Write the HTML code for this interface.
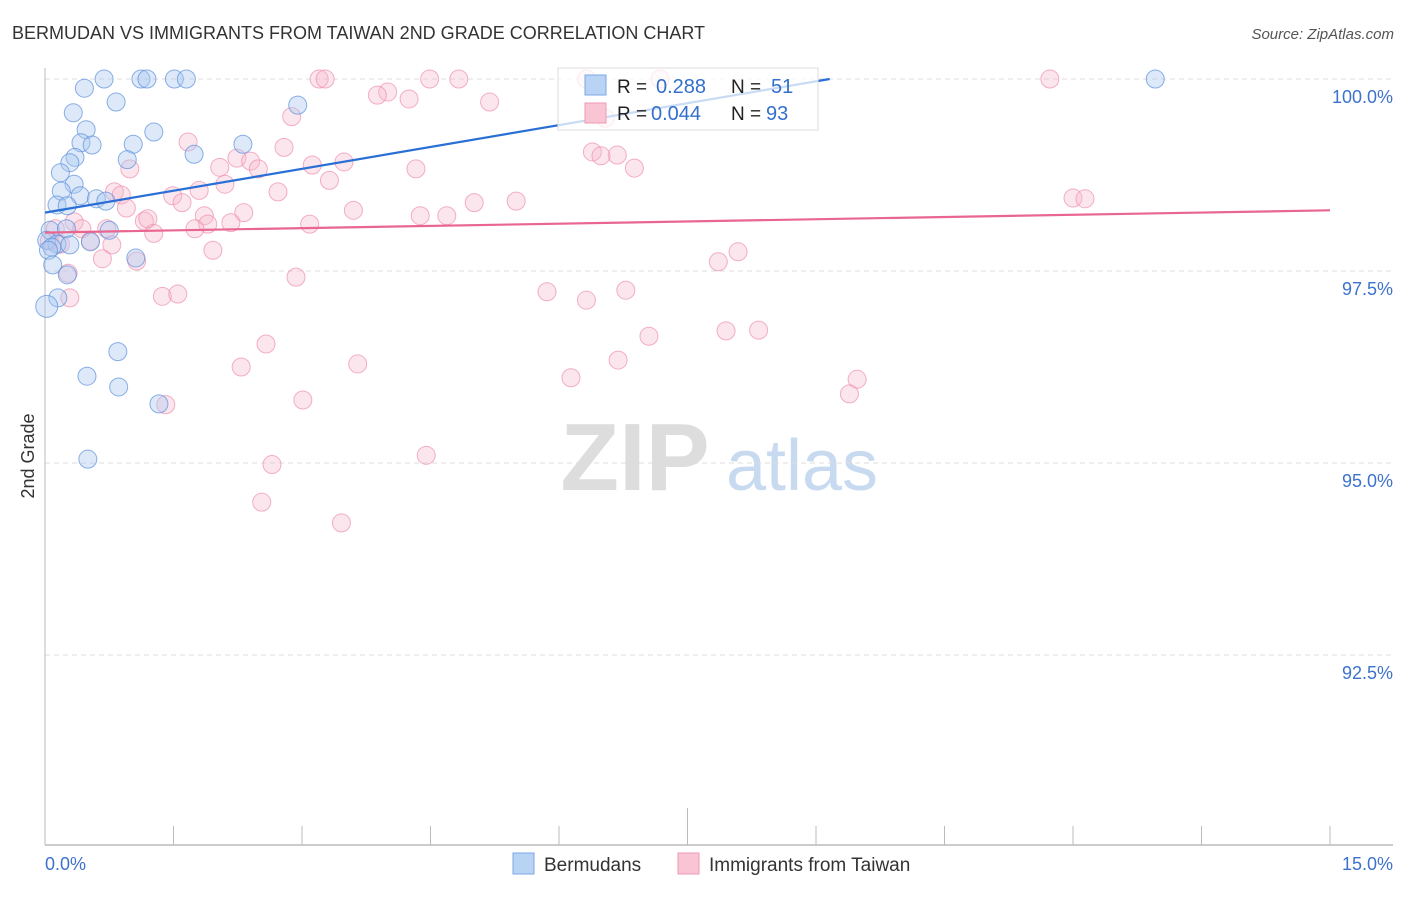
<!DOCTYPE html>
<html><head><meta charset="utf-8">
<style>
body{margin:0;background:#fff;font-family:"Liberation Sans",sans-serif}
svg text{font-family:"Liberation Sans",sans-serif}
</style></head>
<body>
<svg id="chart" width="1406" height="892" xmlns="http://www.w3.org/2000/svg">
<text x="12" y="39" font-size="18" fill="#333">BERMUDAN VS IMMIGRANTS FROM TAIWAN 2ND GRADE CORRELATION CHART</text>
<text x="1394" y="39" font-size="15" fill="#555" text-anchor="end" font-style="italic">Source: ZipAtlas.com</text>
<text x="34" y="456" font-size="18" fill="#333" text-anchor="middle" transform="rotate(-90 34 456)">2nd Grade</text>
<g>
<text x="635" y="490" font-size="96" fill="#ddd" text-anchor="middle" font-family="Liberation Serif" font-weight="bold">ZIP</text>
<text x="802" y="490" font-size="72" fill="#c8daf0" text-anchor="middle">atlas</text>
</g>
<g id="grid"></g>
<g id="axes"></g>
<g id="pts"></g>
<g id="lines"></g>
<g>
<rect x="558" y="68" width="260" height="62" fill="#fff" fill-opacity="0.75" stroke="#ddd"/>
<rect x="585" y="75" width="21" height="20" fill="#b9d3f5" stroke="#7aa7e6"/>
<rect x="585" y="103" width="21" height="20" fill="#f9c4d4" stroke="#ee9ab3"/>
<text x="617" y="93" font-size="19" fill="#222">R = </text>
<text x="656" y="93" font-size="20" fill="#3370cc">0.288</text>
<text x="731" y="93" font-size="19" fill="#222">N = </text>
<text x="771" y="93" font-size="20" fill="#3370cc">51</text>
<text x="617" y="120" font-size="19" fill="#222">R = </text>
<text x="651" y="120" font-size="20" fill="#3370cc">0.044</text>
<text x="731" y="120" font-size="19" fill="#222">N = </text>
<text x="766" y="120" font-size="20" fill="#3370cc">93</text>
</g>
<g>
<rect x="513" y="853" width="21" height="21" fill="#b9d3f5" stroke="#7aa7e6"/>
<text x="544" y="871" font-size="19" fill="#333">Bermudans</text>
<rect x="678" y="853" width="21" height="21" fill="#f9c4d4" stroke="#ee9ab3"/>
<text x="709" y="871" font-size="19" fill="#333">Immigrants from Taiwan</text>
</g>
</svg>
<script>
const blueX=[0.69,1.12,1.19,1.51,1.65,0.46,0.83,0.33,2.95,0.48,1.27,0.42,0.55,1.03,2.31,1.74,0.35,0.96,0.29,0.18,0.34,0.19,0.41,0.60,0.71,0.14,0.26,0.06,0.25,0.75,0.02,0.14,0.29,0.53,0.08,0.04,1.06,0.09,0.26,0.15,0.02,0.85,0.49,0.86,1.33,0.50,12.96];
const blueY=[100,100,100,100,100,99.88,99.70,99.56,99.66,99.34,99.31,99.17,99.14,99.15,99.15,99.02,98.98,98.95,98.91,98.78,98.63,98.54,98.48,98.44,98.41,98.36,98.35,98.03,98.05,98.03,97.90,97.85,97.84,97.88,97.81,97.77,97.67,97.58,97.45,97.15,97.04,96.45,96.13,95.99,95.77,95.05,100];
const pinkX=[3.20,3.27,4.49,4.83,6.32,7.18,11.73,4.00,3.88,4.25,5.19,2.88,6.54,1.67,2.79,6.39,6.68,6.49,2.24,2.40,3.49,3.12,2.04,0.99,2.49,6.88,4.33,3.32,2.10,2.72,0.81,0.89,1.80,1.49,1.60,5.01,5.50,12.00,12.14,0.95,3.60,2.32,1.86,4.38,4.69,1.16,1.20,0.34,2.17,1.90,3.09,1.75,1.27,0.72,0.43,0.12,0.53,0.78,0.05,0.18,1.96,8.09,7.86,0.67,1.07,2.93,0.27,0.29,1.37,1.55,5.86,6.32,6.78,7.95,8.33,7.05,2.58,2.29,3.65,6.69,6.14,9.48,9.39,3.01,1.41,4.45,2.65,2.53,3.46];
const pinkY=[100,100,100,100,100,100,100,99.83,99.79,99.74,99.70,99.51,99.49,99.18,99.11,99.05,99.01,99.00,98.97,98.93,98.92,98.88,98.85,98.83,98.83,98.84,98.83,98.68,98.63,98.53,98.53,98.49,98.55,98.48,98.39,98.39,98.41,98.45,98.44,98.32,98.29,98.26,98.22,98.22,98.22,98.15,98.18,98.14,98.13,98.11,98.11,98.05,97.99,98.05,98.05,98.05,97.89,97.84,97.89,97.85,97.77,97.75,97.62,97.66,97.63,97.42,97.47,97.15,97.17,97.20,97.23,97.12,97.25,96.72,96.73,96.65,96.55,96.25,96.29,96.34,96.11,96.09,95.90,95.82,95.76,95.10,94.98,94.49,94.22];
const yTicks=[100,97.5,95,92.5];
const yTickLabels=["100.0%","97.5%","95.0%","92.5%"];
const blueTrend=[[0,98.26],[9.16,100]];
const pinkTrend=[[0,98.0],[15,98.29]];
const NS="http://www.w3.org/2000/svg";
const X=v=>45+v/15*1285;
const Y=v=>79+(100-v)/2.5*192;
function mk(tag,attrs,parent){const e=document.createElementNS(NS,tag);for(const k in attrs)e.setAttribute(k,attrs[k]);parent.appendChild(e);return e;}
const grid=document.getElementById('grid'),axes=document.getElementById('axes'),pts=document.getElementById('pts'),lines=document.getElementById('lines');
yTicks.forEach((t,i)=>{
 const l=mk('line',{x1:45,x2:1393,y1:Y(t),y2:Y(t),stroke:'#ddd','stroke-dasharray':'5,4'},grid);
 
 
 const tx=mk('text',{x:1393,y:Y(t)+24,'font-size':18,fill:'#3d72cc','text-anchor':'end'},axes);
 tx.textContent=yTickLabels[i];
 
 
});
const yl=mk('line',{x1:45,x2:45,y1:68,y2:845,stroke:'#bbb'},axes);


const xl=mk('line',{x1:45,x2:1393,y1:845,y2:845,stroke:'#bbb','stroke-width':1.5},axes);


for(let i=0;i<=10;i++){
 const v=i*1.5;
 const t=mk('line',{x1:X(v),x2:X(v),y1:i==5?808:826,y2:845,stroke:'#bbb'},axes);
 
 
}
[["0.0%",45,'start'],["15.0%",1393,'end']].forEach(a=>{
 const t=mk('text',{x:a[1],y:870,'font-size':18,fill:'#3d72cc','text-anchor':a[2]},axes);
 t.textContent=a[0];
 
 
});
pinkX.forEach((x,i)=>{
 const c=mk('circle',{cx:X(x),cy:Y(pinkY[i]),r:9,fill:'#f7b6cb','fill-opacity':0.35,stroke:'#ee8fae','stroke-opacity':0.7},pts);
 
 
});
blueX.forEach((x,i)=>{
 const c=mk('circle',{cx:X(x),cy:Y(blueY[i]),r:(i==40?11:9),fill:'#a9c8f0','fill-opacity':0.4,stroke:'#5b8fdc','stroke-opacity':0.7},pts);
 
 
});
const bl=mk('line',{x1:X(blueTrend[0][0]),y1:Y(blueTrend[0][1]),x2:X(blueTrend[1][0]),y2:Y(blueTrend[1][1]),stroke:'#2a6fd6','stroke-width':2.2},lines);


const pl=mk('line',{x1:X(pinkTrend[0][0]),y1:Y(pinkTrend[0][1]),x2:X(pinkTrend[1][0]),y2:Y(pinkTrend[1][1]),stroke:'#e8668f','stroke-width':2.2},lines);


</script>
</body></html>
